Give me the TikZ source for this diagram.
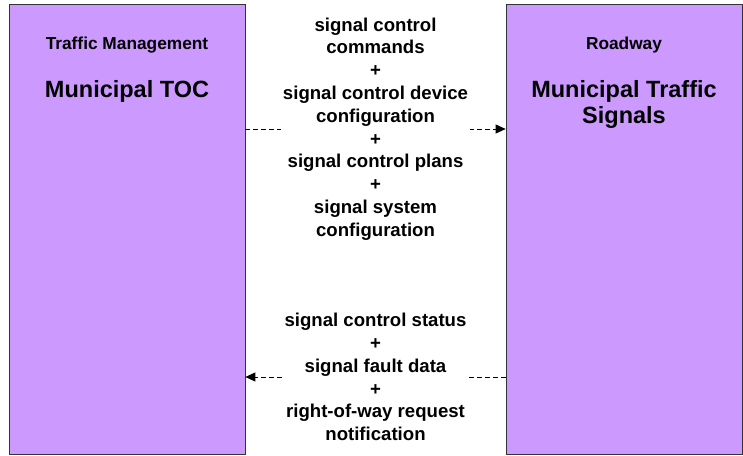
\documentclass[tikz,border=0pt]{standalone}
\usepackage{fontspec}
\setmainfont{Liberation Sans}
\usetikzlibrary{arrows.meta}
\definecolor{elempurple}{HTML}{CC99FF}
\begin{document}
\begin{tikzpicture}[x=1pt,y=-1pt,
    elembox/.style={rectangle,draw=black!80,line width=0.7pt,fill=elempurple,
      minimum width=236pt,minimum height=450pt,inner sep=0pt},
    classtext/.style={anchor=base,font=\bfseries\fontsize{17.3}{20}\selectfont},
    nametext/.style={anchor=base,align=center,font=\bfseries\fontsize{23.5}{26}\selectfont},
    flowtext/.style={fill=white,align=center,inner sep=2pt,
      font=\bfseries\fontsize{18.6}{22.8}\selectfont},
    flow/.style={dash pattern=on 5pt off 3pt,line width=1pt,
      -{Triangle[length=10pt,width=9pt]}}]
      \useasboundingbox (0,0) rectangle (743,455);%

      \node[elembox] (toc) at (127,229) {};%
      \node[elembox] (sig) at (624,229) {};%

      \node[classtext] (tocclass) at (127,49) {Traffic Management};%
      \node[nametext] (tocname) at (127,97) {Municipal TOC};%

      \node[classtext] (sigclass) at (624,49) {Roadway};%
      \node[nametext] (signame) at (624,123) {Municipal Traffic\\Signals};%

      \draw[flow] ([yshift=100pt]toc.east) -- ([yshift=100pt]sig.west)
        node[midway,flowtext] (cmdflow) {signal control\\commands\\+\\signal control device\\configuration\\+\\signal control plans\\+\\signal system\\configuration};%
      \draw[flow] ([yshift=-148pt]sig.west) -- ([yshift=-148pt]toc.east)
        node[midway,flowtext] (statflow) {signal control status\\+\\signal fault data\\+\\right-of-way request\\notification};%
    \end{tikzpicture}
\end{document}
